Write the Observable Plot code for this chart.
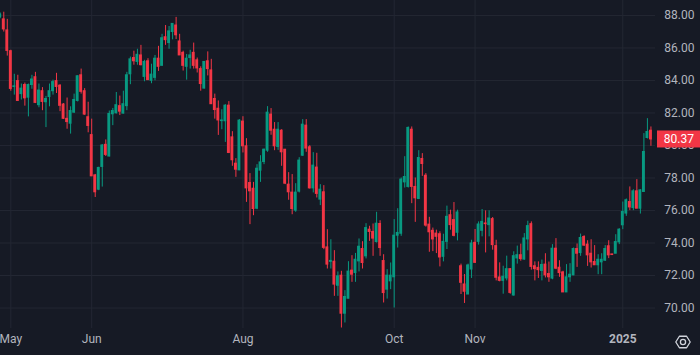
<!DOCTYPE html>
<html>
<head>
<meta charset="utf-8">
<script src="https://cdn.jsdelivr.net/npm/d3@7"></script>
<script src="https://cdn.jsdelivr.net/npm/@observablehq/plot@0.6"></script>
<style>
  html, body { margin: 0; padding: 0; background: #161a25; }
  svg { display: block; }
</style>
</head>
<body>
<script>
// Daily OHLC candles, bar 0 = first trading day of May (first visible bar is -3)
const firstBar = -3;
const open = [
  87.90,87.76,87.08,85.80,83.60,83.96,83.16,83.72,82.94,83.72,
  84.20,82.48,83.34,82.66,82.98,83.34,83.96,83.68,82.52,81.64,
  81.34,82.02,82.74,84.32,83.34,81.74,80.64,78.16,77.28,78.68,
  80.04,79.32,81.92,81.98,82.42,81.96,82.42,84.38,85.38,85.14,
  85.54,84.22,85.18,83.98,84.16,85.34,84.90,86.66,86.30,86.98,
  87.38,86.40,85.70,84.84,85.38,85.70,85.24,84.70,83.50,85.18,
  84.62,82.86,82.26,81.50,81.49,82.45,80.50,78.88,78.47,81.47,
  79.95,77.69,77.34,76.11,78.45,78.98,79.68,81.90,80.97,79.91,
  80.91,79.74,77.59,77.10,75.99,77.16,79.37,81.22,79.89,77.36,
  78.64,76.67,77.12,73.73,72.84,72.85,71.37,71.99,69.65,70.57,
  72.30,72.15,72.87,73.63,73.18,74.82,74.68,74.06,75.17,72.89,
  71.13,71.64,71.89,74.45,74.57,77.73,77.45,80.97,77.45,76.71,
  79.17,78.14,75.13,74.75,74.58,74.54,73.15,74.07,75.71,75.41,
  74.63,72.57,71.45,70.83,72.37,74.01,74.07,74.75,75.20,75.10,
  75.47,73.81,71.88,71.67,71.82,72.39,70.77,73.05,73.25,72.98,
  74.22,75.16,72.57,72.47,72.28,72.67,72.09,71.81,73.65,72.48,
  72.19,70.96,71.89,72.01,73.63,73.38,74.37,73.90,73.34,72.83,
  72.63,72.81,72.91,73.80,73.30,73.34,74.04,75.09,75.81,76.52,
  76.15,77.18,76.11,77.14,80.46,80.91
];
const high = [
  88.15,88.20,87.76,85.86,84.38,84.32,83.78,83.84,83.78,84.32,
  84.50,83.78,83.56,83.02,83.78,84.02,84.44,83.74,82.58,82.92,
  82.38,83.16,84.28,84.70,83.50,82.66,81.62,78.22,78.66,80.06,
  80.34,82.12,82.28,83.26,83.04,83.34,84.50,85.44,85.80,85.92,
  86.16,85.24,85.34,85.00,85.54,86.10,86.84,87.38,87.32,87.48,
  87.88,86.84,85.80,85.60,85.86,86.30,85.38,84.84,85.14,85.76,
  85.30,83.16,82.74,82.20,82.51,82.70,80.85,79.19,81.59,81.77,
  80.42,78.27,77.73,78.82,79.37,79.78,82.39,82.27,81.41,81.41,
  80.97,79.74,78.33,78.21,77.65,79.25,81.59,81.59,79.99,79.56,
  79.52,77.59,77.53,74.82,74.20,73.53,72.22,72.26,71.07,72.85,
  73.22,73.36,74.25,74.08,75.19,75.03,75.17,75.89,75.37,73.28,
  72.36,72.77,75.44,76.11,78.00,79.31,81.14,81.14,78.00,79.68,
  79.50,78.27,75.58,74.92,74.79,74.69,74.54,76.27,76.02,76.49,
  76.02,72.70,72.06,72.70,74.17,74.83,75.30,76.06,75.98,75.98,
  75.57,74.17,72.78,72.57,73.19,72.43,73.46,73.81,73.93,74.58,
  75.34,75.30,72.84,72.84,72.95,73.34,72.83,73.90,74.27,72.91,
  72.26,72.67,72.73,73.69,73.94,74.55,74.45,74.14,74.20,73.84,
  73.28,73.34,73.84,74.14,73.30,74.51,74.88,76.52,76.71,77.45,
  77.28,77.90,77.28,80.73,81.65,81.14
];
const low = [
  87.80,86.98,85.50,83.34,83.10,82.72,82.80,82.42,81.76,83.46,
  82.58,82.32,82.14,81.10,82.38,83.10,83.20,82.08,81.60,81.00,
  80.70,81.98,82.68,83.16,81.86,80.78,78.10,76.80,77.22,77.44,
  79.32,79.30,81.22,81.94,81.84,81.94,82.14,83.74,84.94,84.94,
  84.90,83.92,84.02,83.80,83.98,84.56,84.90,86.16,85.92,86.50,
  86.52,85.54,84.58,84.02,84.70,84.70,84.46,83.34,83.48,84.28,
  82.54,81.62,80.62,80.97,80.19,79.50,78.72,78.04,78.45,79.54,
  76.50,75.13,75.68,76.05,77.73,78.82,79.58,80.63,79.68,79.70,
  78.72,77.59,76.63,75.74,75.89,77.08,79.33,79.58,77.32,77.08,
  76.77,76.30,73.59,72.40,72.40,70.72,70.72,68.77,69.08,70.57,
  71.58,71.58,72.22,72.40,73.02,74.10,73.18,74.00,73.18,70.31,
  70.55,71.13,70.00,73.69,74.41,77.38,77.38,76.42,75.27,76.67,
  78.10,74.98,73.43,73.47,73.35,72.53,72.84,73.60,74.79,74.38,
  74.13,70.83,70.28,70.83,71.82,72.74,73.87,74.38,73.39,74.38,
  73.56,71.67,71.61,70.85,71.67,70.85,70.73,72.70,72.88,72.94,
  73.52,72.33,71.67,71.82,71.67,71.85,71.58,71.74,72.36,71.89,
  70.96,70.96,71.58,71.99,72.50,73.18,73.79,72.56,72.46,72.63,
  72.05,72.05,72.87,73.04,73.24,73.34,73.90,74.82,75.64,75.99,
  75.99,76.11,75.78,77.12,80.40,79.95
];
const close = [
  88.05,87.14,85.82,83.48,83.64,82.74,83.50,82.90,83.72,84.06,
  82.62,83.38,82.68,82.86,83.34,83.90,83.60,82.44,81.64,81.44,
  82.12,82.80,84.26,83.30,81.90,81.20,78.10,77.12,78.62,80.00,
  79.42,81.94,82.12,82.48,82.08,82.54,84.32,85.30,85.18,85.58,
  84.94,85.14,84.02,84.36,85.34,84.84,86.60,86.48,87.02,87.48,
  86.78,85.54,84.90,85.34,85.54,84.90,84.74,83.78,85.14,84.70,
  82.54,82.18,81.54,81.54,82.45,79.54,79.09,78.51,81.53,79.95,
  77.36,77.18,76.09,78.57,78.96,79.74,82.02,80.91,79.95,80.97,
  79.58,77.65,77.12,76.09,77.10,79.07,81.28,79.81,77.36,78.76,
  77.02,77.28,73.70,72.67,72.90,71.44,71.95,69.65,70.68,72.24,
  72.05,72.97,73.77,72.77,74.92,74.68,74.27,75.19,73.69,70.92,
  71.99,71.99,74.45,74.62,77.90,78.06,81.08,77.45,76.75,79.23,
  78.86,75.07,74.66,74.22,74.38,73.11,74.07,75.61,75.10,74.44,
  75.88,71.55,71.00,72.62,73.97,72.78,75.14,75.30,75.16,75.51,
  73.87,71.86,71.67,71.92,72.39,70.93,73.19,73.25,73.01,74.28,
  75.04,72.53,72.39,72.33,72.65,72.01,71.89,73.65,72.42,72.15,
  70.96,71.89,72.05,73.63,73.34,74.31,73.84,73.24,72.81,72.63,
  72.97,72.97,73.63,73.24,73.26,74.06,74.82,75.91,76.63,76.19,
  77.18,76.11,77.24,79.60,80.83,80.37
];

// Time-axis ticks (bar number of first trading day of each labelled period)
const tickBars = [0, 23, 66, 109, 132, 174];
const tickLabels = ["May", "Jun", "Aug", "Oct", "Nov", "2025"];
// Price-axis ticks
const yTicks = [70, 72, 74, 76, 78, 80, 82, 84, 86, 88];

const UP = "#089981", DOWN = "#f23645";
const GRID = "#232733", TEXT = "#b2b5be";

const bars = close.map((c, i) => ({
  bar: firstBar + i, open: open[i], high: high[i], low: low[i], close: c,
  color: c >= open[i] ? UP : DOWN
}));
const ticks = tickBars.map((b, i) => ({bar: b, label: tickLabels[i], year: /^\d{4}$/.test(tickLabels[i])}));
const last = bars[bars.length - 1];

function lastPriceMark(index, scales, values, dims) {
  const y = scales.y(last.close);
  const x0 = dims.width - dims.marginRight;
  const g = d3.create("svg:g");
  g.append("rect")
    .attr("x", x0 + 2).attr("y", y - 8.5)
    .attr("width", dims.marginRight - 2).attr("height", 17)
    .attr("fill", last.color);
  g.append("text")
    .attr("x", dims.width - 6).attr("y", y).attr("dy", "0.35em")
    .attr("text-anchor", "end").attr("fill", "#ffffff")
    .attr("font-family", "Roboto, sans-serif").attr("font-size", 12)
    .text(last.close.toFixed(2));
  return g.node();
}

function settingsIcon(index, scales, values, dims) {
  const cx = dims.width - 17, cy = dims.height - 13;
  const r = 7.2;
  const pts = d3.range(6).map(k => {
    const a = Math.PI / 3 * k;
    return [cx + r * Math.cos(a), cy + r * Math.sin(a) * 0.92];
  });
  const g = d3.create("svg:g").attr("fill", "none").attr("stroke", "#d1d4dc").attr("stroke-width", 1.3);
  g.append("path").attr("d", "M" + pts.map(p => p.join(",")).join("L") + "Z").attr("stroke-linejoin", "round");
  g.append("circle").attr("cx", cx).attr("cy", cy).attr("r", 2.6);
  return g.node();
}

const chart = Plot.plot({
  width: 700,
  height: 355,
  marginLeft: 0,
  marginRight: 45,
  marginTop: 0,
  marginBottom: 27,
  style: {background: "#161a25", color: TEXT, fontFamily: "Roboto, sans-serif", fontSize: "12px"},
  x: {domain: [-2.93, 183.3], axis: null},
  y: {domain: [68.74, 88.92], axis: null},
  color: {type: "identity"},
  marks: [
    Plot.ruleY(yTicks, {y: d => d, stroke: GRID, strokeWidth: 1}),
    Plot.ruleX(ticks, {x: "bar", stroke: GRID, strokeWidth: 1}),
    Plot.ruleX(bars, {x: "bar", y1: "low", y2: "high", stroke: "color", strokeWidth: 1}),
    Plot.rect(bars, {
      x1: d => d.bar - 0.41, x2: d => d.bar + 0.41,
      y1: "open", y2: "close", fill: "color",
      insetTop: -0.5, insetBottom: -0.5
    }),
    Plot.text(yTicks, {y: d => d, text: d => d.toFixed(2), frameAnchor: "right", dx: 39, textAnchor: "end", fill: TEXT, fontSize: 12}),
    Plot.text(ticks.filter(d => !d.year), {x: "bar", text: "label", frameAnchor: "bottom", dy: 14, fill: TEXT, fontSize: 12}),
    Plot.text(ticks.filter(d => d.year), {x: "bar", text: "label", frameAnchor: "bottom", dy: 14, fill: TEXT, fontSize: 12, fontWeight: "bold"}),
    lastPriceMark,
    settingsIcon
  ]
});
document.body.appendChild(chart);
</script>
</body>
</html>
